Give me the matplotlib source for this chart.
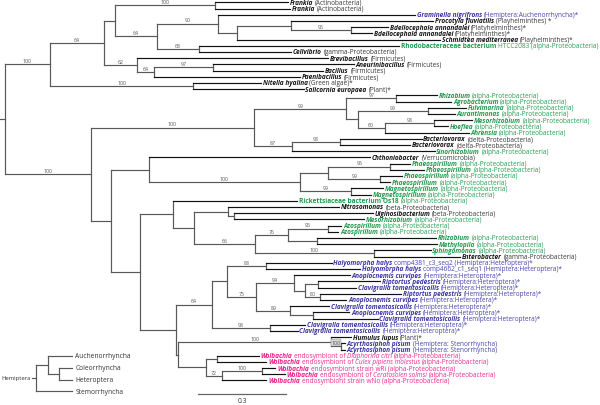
import re
import matplotlib
matplotlib.use("Agg")
import matplotlib.pyplot as plt

# ---------------- data ----------------
tree_newick = (
    "(("
    "(((L1:0.251,L2:0.259)100:0.342,"
    "((L3:0.676,((L4:0.488,(L5:0.126,L6:0.070)96:0.208):0.184,L7:0.696):0.066)90:0.211,"
    "(L8:0.687,L9:0.317)68:0.145)64:0.142):0.038,"
    "(L10:0.659,((L11:0.484,L12:0.379)97:0.203,L13:0.501)64:0.059)62:0.111)64:0.188,"
    "(L14:0.232,L15:0.379)100:0.494)100:0.155,"
    "("
    "(((L16:0.138,L17:0.188)97:0.172,"
    "((L18:0.132,L19:0.093)99:0.241,((L20:0.130,L21:0.047)98:0.171,L22:0.289)60:0.092):0.039)99:0.317,"
    "((L23:0.280,L24:0.241)98:0.166,L25:0.491)87:0.129)100:0.562,"
    "("
    "(L26:0.762,(((L27:0.068,L28:0.117)95:0.212,(L29:0.074,L30:0.034)99:0.178):0.096,"
    "(L31:0.108,L32:0.066)99:0.175)100:0.522):0.129,"
    "("
    "(L33:0.428,((L34:0.380,(L35:0.476,L36:0.447):0.021):0.116,"
    "(((L37:0.047,L38:0.037)96:0.136,(L39:0.411,L40:0.414):0.099)76:0.113,"
    "(L41:0.196,L42:0.297)100:0.407)66:0.209):0.074):0.112,"
    "("
    "(((L43:0.225,L44:0.322)88:0.133,"
    "((L45:0.193,((L46:0.213,L47:0.129):0.045,(L48:0.279,L49:0.091)80:0.051):0.039)94:0.129,"
    "(L50:0.134,(L51:0.124,L52:0.221):0.079)89:0.117)75:0.099):0.054,"
    "(L53:0.121,L54:0.095)98:0.200)64:0.124,"
    "((L55:0.068,(L56:0.013,L57:0.013)100:0.034)100:0.525,"
    "((L58:0.143,L59:0.170):0.038,((L60:0.046,L61:0.078)100:0.138,L62:0.153)72:0.055):0.095):0.009"
    "):0.122"
    "):0.100"
    "):0.070"
    ")100:0.296"
    "):0.016"
)

leaf_names = [
    "Frankia", "Frankia", "Graminella nigrifrons", "Procotyla fluviatilis",
    "Bdellocephala annandalei", "Bdellocephala annandalei", "Schmidtea mediterranea",
    "Rhodobacteraceae bacterium", "Cellvibrio", "Brevibacillus", "Aneurinibacillus",
    "Bacillus", "Paenibacillus", "Nitella hyalina", "Salicornia europaea",
    "Rhizobium", "Agrobacterium", "Fulvimarina", "Aurantimonas", "Mesorhizobium",
    "Hoeflea", "Ahrensia", "Bacteriovorax", "Bacteriovorax", "Sinorhizobium",
    "Chthoniobacter", "Phaeospirillum", "Phaeospirillum", "Phaeospirillum",
    "Phaeospirillum", "Magnetospirillum", "Magnetospirillum",
    "Rickettsiaceae bacterium Os18", "Nitrosomonas", "Ulginosibacterium",
    "Mesorhizobium", "Azospirillum", "Azospirillum", "Rhizobium", "Methylopila",
    "Sphingomonas", "Enterobacter", "Halyomorpha halys", "Halyomorpha halys",
    "Anoplocnemis curvipes", "Riptortus pedestris", "Clavigralla tomentosicollis",
    "Riptortus pedestris", "Anoplocnemis curvipes", "Clavigralla tomentosicollis",
    "Anoplocnemis curvipes", "Clavigralla tomentosicollis",
    "Clavigralla tomentosicollis", "Clavigralla tomentosicollis", "Humulus lupus",
    "Acyrthosiphon pisum", "Acyrthosiphon pisum", "Wolbachia", "Wolbachia",
    "Wolbachia", "Wolbachia", "Wolbachia",
]

ALPHA = "(alpha-Proteobacteria)"
HET = "(Hemiptera:Heteroptera)*"
leaf_notes = [
    "(Actinobacteria)", "(Actinobacteria)", "(Hemiptera:Auchenorrhyncha)*",
    "(Playhelminthes) *", "(Platyhelminthes)*", "(Platyhelminthes)*",
    "(Playhelminthes)*", "HTCC2083 " + ALPHA, "(gamma-Proteobacteria)",
    "(Firmicutes)", "(Firmicutes)", "(Firmicutes)", "(Firmicutes)",
    "(Green algae)*", "(Plant)*",
    ALPHA, ALPHA, ALPHA, ALPHA, ALPHA, ALPHA, ALPHA,
    "(delta-Proteobacteria)", "(delta-Proteobacteria)", ALPHA,
    "(Verrucomicrobia)", ALPHA, ALPHA, ALPHA, ALPHA, ALPHA, ALPHA, ALPHA,
    "(beta-Proteobacteria)", "(beta-Proteobacteria)", ALPHA, ALPHA, ALPHA,
    ALPHA, ALPHA, ALPHA, "(gamma-Proteobacteria)",
    "comp4381_c3_seq2 " + HET, "comp4662_c1_seq1 " + HET,
    HET, HET, HET, HET, HET, HET, HET, HET, HET, HET,
    "(Plant)*", "(Hemiptera: Stenorrhyncha)", "(Hemiptera: Stenorrhyncha)",
    "endosymbiont of {Diaphorina citri} " + ALPHA,
    "endosymbiont of {Culex pipiens molestus} " + ALPHA,
    "endosymbiont strain wRi " + ALPHA,
    "endosymbiont of {Ceratosolen solmsi} " + ALPHA,
    "endosymbiont strain wNo " + ALPHA,
]

leaf_groups = (
    ["k", "k", "b", "k", "k", "k", "k", "g", "k", "k", "k", "k", "k", "k", "k"]
    + ["g"] * 7 + ["k", "k", "g", "k"] + ["g"] * 7 + ["k", "k"] + ["g"] * 6
    + ["k"] + ["b"] * 12 + ["k", "b", "b"] + ["m"] * 5
)
upright_names = {"Rhodobacteraceae bacterium", "Rickettsiaceae bacterium Os18"}

inset_newick = ("((Auchenorrhyncha:2.0,(Coleorrhyncha:1.1,Heteroptera:1.1):0.9):1.0,"
                "Stemorrhyncha:3.0)Hemiptera:0.35")

scale_length = 0.3

# ---------------- styles ----------------
name_colors = {"k": "#151515", "g": "#1f9a4b", "b": "#3b35a3", "m": "#ec1a8c"}
note_colors = {"k": "#3a3a3a", "g": "#27a052", "b": "#4a45ad", "m": "#ee2a95"}
FONT = "Open Sans"
FS = 4.7
BFS = 3.8
LW = 0.85
INT_COL = "#585858"
TERM_COL = "#111111"


def parse_newick(s):
    s = re.sub(r"\s+", "", s)
    pos = 0

    def node():
        nonlocal pos
        n = {"children": [], "name": "", "len": 0.0}
        if s[pos] == "(":
            pos += 1
            while True:
                n["children"].append(node())
                if s[pos] == ",":
                    pos += 1
                    continue
                pos += 1
                break
        st = pos
        while pos < len(s) and s[pos] not in ":,);":
            pos += 1
        n["name"] = s[st:pos]
        if pos < len(s) and s[pos] == ":":
            pos += 1
            st = pos
            while pos < len(s) and s[pos] not in ",);":
                pos += 1
            n["len"] = float(s[st:pos])
        return n

    return node()


def layout(n, x0, counter):
    n["x"] = x0 + n["len"]
    if not n["children"]:
        n["y"] = counter[0]
        counter[0] += 1
    else:
        for c in n["children"]:
            layout(c, n["x"], counter)
        n["y"] = (n["children"][0]["y"] + n["children"][-1]["y"]) / 2.0


def draw_tree(ax, n, parent_x, leaf_cb, boot=True):
    leaf = not n["children"]
    ax.plot([parent_x, n["x"]], [n["y"], n["y"]], color=TERM_COL if leaf else INT_COL,
            lw=LW, solid_capstyle="projecting", zorder=2)
    if leaf:
        leaf_cb(n)
        return
    ys = [c["y"] for c in n["children"]]
    ax.plot([n["x"], n["x"]], [min(ys), max(ys)], color=INT_COL, lw=LW,
            solid_capstyle="projecting", zorder=2)
    if boot and n["name"]:
        blen = n["x"] - parent_x
        kw = {}
        if blen < 0.04:
            kw["bbox"] = dict(boxstyle="square,pad=0.15", fc="#d8d8d8", ec="#8a8a8a", lw=0.3)
        ax.text((parent_x + n["x"]) / 2.0, n["y"] - 0.6, n["name"], fontsize=BFS,
                family=FONT, color="#555555", ha="center", va="center", zorder=3, **kw)
    for c in n["children"]:
        draw_tree(ax, c, n["x"], leaf_cb, boot)


fig = plt.figure(figsize=(6.0, 4.06), dpi=100)
ax = fig.add_axes([0, 0, 1, 1])
ax.axis("off")
px_per_unit = 290.9
ax.set_xlim(0, 600 / px_per_unit)
row_px = 6.2
top_px = 3.3
ax.set_ylim((406 - top_px) / row_px, -top_px / row_px)

tree = parse_newick(tree_newick)
layout(tree, 0.0, [0])


def leaf_label(n):
    i = int(n["name"][1:]) - 1
    g = leaf_groups[i]
    name = leaf_names[i]
    style = "normal" if name in upright_names else "italic"
    prev = ax.text(n["x"] + 0.006, n["y"], name, fontsize=FS, family=FONT,
                   fontweight="bold", fontstyle=style, color=name_colors[g],
                   ha="left", va="center", zorder=3)
    parts = re.split(r"\s*\{([^}]*)\}\s*", leaf_notes[i])
    for k, seg in enumerate(parts):
        if not seg:
            continue
        prev = ax.annotate(seg, xy=(1, 0), xycoords=prev, xytext=(1.3, 0),
                           textcoords="offset points", ha="left", va="bottom",
                           fontsize=FS, family=FONT,
                           fontstyle="italic" if k % 2 == 1 else "normal",
                           color=note_colors[g], zorder=3)


draw_tree(ax, tree, 0.0, leaf_label)

# scale bar
sb_x0 = 198.3 / px_per_unit
sb_y = (395 - top_px) / row_px
ax.plot([sb_x0, sb_x0 + scale_length], [sb_y, sb_y], color="#666666", lw=0.9)
ax.text(sb_x0 + scale_length / 2, sb_y + 1.0, f"{scale_length:g}", fontsize=4.8,
        family=FONT, color="#333333", ha="center", va="center")

# inset Hemiptera cladogram
ins_left_px, ins_w_px = 0, 160
ins_top_px, ins_h_px = 345, 55
axi = fig.add_axes([ins_left_px / 600, 1 - (ins_top_px + ins_h_px) / 406,
                    ins_w_px / 600, ins_h_px / 406])
axi.axis("off")
u_px = 12.2
stem_px = 31.5
axi.set_xlim(-stem_px / u_px, (ins_w_px - stem_px) / u_px)
tip0_px, tip_step = 356.7, 11.9
axi.set_ylim((ins_top_px + ins_h_px - tip0_px) / tip_step, (ins_top_px - tip0_px) / tip_step)
inset = parse_newick(inset_newick)
layout(inset, 0.0, [0])


def inset_label(n):
    axi.text(n["x"] + 0.25, n["y"], n["name"], fontsize=4.8, family=FONT,
             color="#333333", ha="left", va="center")


def draw_inset(n, px):
    leaf = not n["children"]
    axi.plot([px, n["x"]], [n["y"], n["y"]], color=INT_COL, lw=LW, solid_capstyle="projecting")
    if leaf:
        inset_label(n)
        return
    ys = [c["y"] for c in n["children"]]
    axi.plot([n["x"], n["x"]], [min(ys), max(ys)], color=INT_COL, lw=LW,
             solid_capstyle="projecting")
    for c in n["children"]:
        draw_inset(c, n["x"])


draw_inset(inset, 0.0)
axi.text(-0.05, inset["y"] - 0.05, inset["name"], fontsize=4.2, family=FONT,
         color="#333333", ha="right", va="center")

fig.savefig("out.png", dpi=100)
